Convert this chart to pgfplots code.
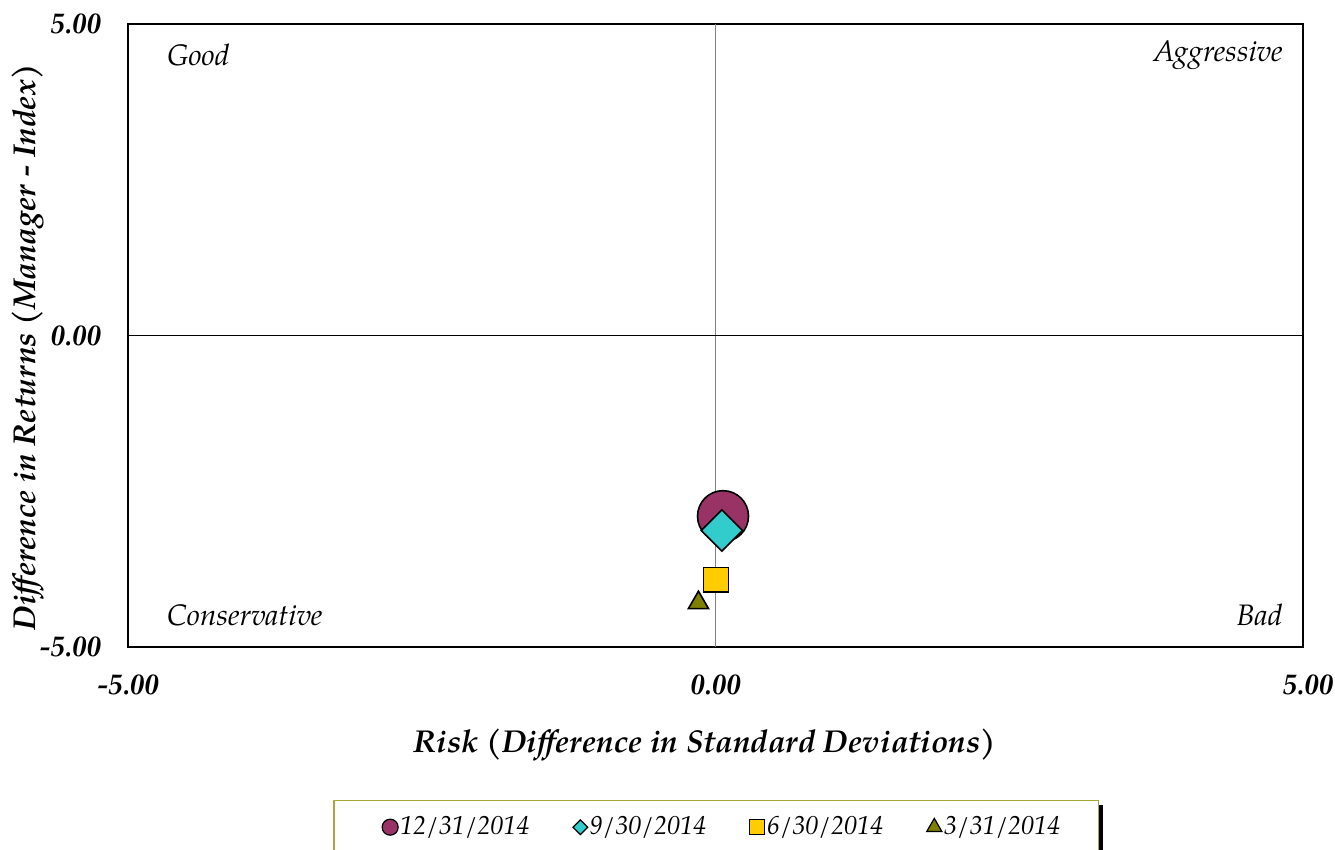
\documentclass[border=0pt]{standalone}
\usepackage{pgfplots}
\pgfplotsset{compat=1.18}
\usepackage{fontspec}
\setmainfont{TeX Gyre Pagella}
\usetikzlibrary{shadows}
\definecolor{cMaroon}{HTML}{993366}
\definecolor{cTeal}{HTML}{33CCCC}
\definecolor{cGold}{HTML}{FFCC00}
\definecolor{cOlive}{HTML}{808000}
\definecolor{legborder}{HTML}{A8A838}
\begin{document}
\begin{tikzpicture}[x=1pt,y=1pt]
\useasboundingbox (-64,-101.5) rectangle (603.5,323.5);
\begin{axis}[at={(0,0)}, anchor=south west, scale only axis,
  width=587.5pt, height=311.5pt,
  xmin=-5, xmax=5, ymin=-5, ymax=5,
  xtick={-5,0,5}, ytick={-5,0,5},
  xticklabels={-5.00,0.00,\hspace{5pt}5.00}, yticklabels={-5.00,0.00,5.00},
  tick style={draw=none},
  ticklabel style={font=\fontsize{14.4}{17}\selectfont\bfseries\itshape},
  xticklabel style={anchor=center, yshift=-19pt},
  yticklabel style={anchor=east, xshift=-10pt},
  axis line style={line width=0.7pt},
  xlabel={Risk (Difference in Standard Deviations)},
  ylabel={Difference in Returns (Manager - Index)},
  label style={font=\fontsize{15.8}{19}\selectfont\bfseries\itshape},
  xlabel style={at={(axis description cs:0.491,-0.157)}, anchor=center},
  ylabel style={at={(axis description cs:-0.085,0.481)}, anchor=center},
  clip=false,
  legend columns=4,
  legend image code/.code={\draw[#1] plot coordinates {(0pt,0pt)};},
  legend style={at={(axis description cs:0.5005,-0.2456)}, anchor=north,
    draw=legborder, line width=0.6pt, fill=white,
    drop shadow={shadow xshift=2.6pt, shadow yshift=-2.2pt, fill=black, opacity=1},
    font=\fontsize{13}{15}\selectfont\itshape,
    inner xsep=17pt, inner ysep=6pt,
    /tikz/every odd column/.append style={column sep=-1pt},
    /tikz/every even column/.append style={column sep=19.8pt}},
]
\draw[gray, line width=0.9pt] (axis cs:0,-5) -- (axis cs:0,5);
\draw[black, line width=0.6pt] (axis cs:-5,0) -- (axis cs:5,0);
\node[anchor=west, inner sep=0pt, font=\fontsize{14.8}{17}\selectfont\itshape] at (axis cs:-4.67,4.5) {Good};
\node[anchor=east, inner sep=0pt, font=\fontsize{14.8}{17}\selectfont\itshape] at (axis cs:4.83,4.5) {Aggressive};
\node[anchor=west, inner sep=0pt, font=\fontsize{14.8}{17}\selectfont\itshape] at (axis cs:-4.67,-4.49) {Conservative};
\node[anchor=east, inner sep=0pt, font=\fontsize{14.8}{17}\selectfont\itshape] at (axis cs:4.83,-4.49) {Bad};

\addlegendimage{legend image code/.code={\path (-10.8pt,0pt); \draw[##1] plot coordinates {(0pt,0pt)};},
  only marks, mark=*, mark size=4pt, mark options={draw=black, fill=cMaroon, line width=0.6pt}}
\addlegendentry{12/31/2014}
\addlegendimage{only marks, mark=square*, mark size=2.6pt, mark options={rotate=45, draw=black, fill=cTeal, line width=0.6pt}}
\addlegendentry{9/30/2014}
\addlegendimage{only marks, mark=square*, mark size=3.8pt, mark options={draw=black, fill=cGold, line width=0.6pt}}
\addlegendentry{6/30/2014}
\addlegendimage{only marks, mark=triangle*, mark size=4.4pt, mark options={draw=black, fill=cOlive, line width=0.6pt}}
\addlegendentry{3/31/2014}

\addplot[only marks, mark=*, mark size=12.75pt, mark options={draw=black, fill=cMaroon, line width=0.8pt}, forget plot]
  coordinates {(0.064,-2.90)};
\addplot[only marks, mark=square*, mark size=7.3pt, mark options={rotate=45, draw=black, fill=cTeal, line width=0.8pt}, forget plot]
  coordinates {(0.055,-3.13)};
\addplot[only marks, mark=square*, mark size=6.2pt, mark options={draw=black, fill=cGold, line width=0.8pt}, forget plot]
  coordinates {(0.004,-3.92)};
\addplot[only marks, mark=triangle*, mark size=5.8pt, mark options={draw=black, fill=cOlive, line width=0.8pt}, forget plot]
  coordinates {(-0.145,-4.29)};
\end{axis}
\end{tikzpicture}
\end{document}
